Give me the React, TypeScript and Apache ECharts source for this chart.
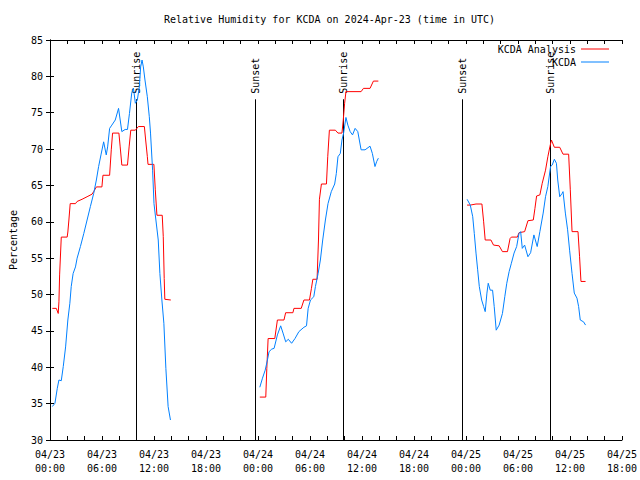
import React, { useEffect, useRef } from "react";
import * as echarts from "echarts";

const titleText = "Relative Humidity for KCDA on 2024-Apr-23 (time in UTC)";
const dayLabels = ["04/23", "04/24", "04/25"];
const yAxisName = "Percentage";

// hours since 04/23 00:00 UTC
const sunHours = [9.93, 23.68, 33.84, 47.63, 57.79];
const sunLabels = ["Sunrise", "Sunset", "Sunrise", "Sunset", "Sunrise"];

const analysisSeg1 = [
  [0.27, 48.1], [0.73, 48.1], [0.95, 47.4], [1.03, 49.0], [1.11, 52.7], [1.3, 57.9], [1.98, 57.9],
  [2.06, 58.6], [2.18, 60.25], [2.33, 62.5], [2.94, 62.5], [3.13, 62.8], [3.7, 63.1], [4.28, 63.45],
  [4.85, 63.8], [5.04, 64.15], [5.35, 64.8], [5.99, 64.8], [6.11, 66.4], [6.88, 66.4], [7.07, 69.9],
  [7.22, 72.2], [7.95, 72.2], [8.1, 70.3], [8.29, 67.8], [8.94, 67.8], [9.13, 70.3], [9.32, 72.6],
  [9.85, 72.6], [10.2, 73.1], [10.89, 73.1], [11.04, 71.25], [11.23, 69.0], [11.31, 67.9],
  [11.99, 67.9], [12.15, 64.4], [12.34, 60.9], [12.95, 60.9], [13.07, 58.0], [13.18, 52.2],
  [13.25, 49.35], [13.94, 49.25],
];
const analysisSeg2 = [
  [24.21, 35.9], [24.9, 35.9], [25.02, 39.85], [25.17, 43.95], [25.94, 43.95], [26.24, 46.5],
  [27.0, 46.5], [27.19, 47.5], [28.03, 47.5], [28.15, 48.1], [28.99, 48.1], [29.3, 49.25],
  [29.94, 49.25], [30.17, 50.85], [30.33, 52.1], [30.82, 52.1], [30.98, 57.5], [31.09, 63.1],
  [31.32, 65.2], [31.9, 65.2], [32.05, 68.95], [32.24, 72.6], [32.93, 72.6], [33.23, 72.2],
  [33.69, 72.2], [33.84, 74.0], [34.0, 76.3], [34.15, 77.9], [35.9, 77.9], [36.17, 78.35],
  [36.93, 78.35], [37.32, 79.35], [37.89, 79.35],
];
const analysisSeg3 = [
  [48.13, 62.3], [48.5, 62.3], [49.16, 62.45], [49.84, 62.45], [50.04, 60.0], [50.22, 57.5],
  [50.88, 57.5], [51.18, 56.8], [51.83, 56.7], [52.21, 55.9], [52.79, 55.9], [53.09, 57.7],
  [53.24, 57.9], [53.93, 57.9], [54.12, 58.5], [54.77, 58.65], [55.15, 60.15], [55.77, 60.25],
  [55.96, 61.85], [56.15, 63.55], [56.53, 63.7], [56.8, 65.3], [57.18, 67.1], [57.45, 68.95],
  [57.68, 70.3], [57.86, 71.25], [58.2, 70.25], [58.82, 70.25], [59.2, 69.3], [59.85, 69.3],
  [60.04, 64.4], [60.24, 58.65], [60.93, 58.65], [61.11, 55.2], [61.27, 51.8], [61.8, 51.8],
];

const obsSeg1 = [
  [0.27, 34.6], [0.57, 35.05], [0.84, 37.1], [1.03, 38.25], [1.3, 38.15], [1.53, 40.1], [1.8, 42.8],
  [2.06, 46.5], [2.29, 48.8], [2.45, 51.1], [2.67, 52.9], [2.94, 53.8], [3.13, 55.0], [3.51, 56.6],
  [3.9, 58.4], [4.28, 60.25], [4.66, 62.1], [5.04, 63.9], [5.35, 65.75], [5.61, 67.6], [5.88, 69.2],
  [6.19, 71.0], [6.49, 69.2], [6.65, 70.3], [6.88, 72.85], [7.14, 73.3], [7.53, 74.0], [7.91, 75.6],
  [8.1, 74.0], [8.29, 72.4], [8.67, 72.7], [8.94, 72.7], [9.17, 74.9], [9.43, 77.7], [9.63, 78.4],
  [9.85, 76.3], [10.08, 76.75], [10.31, 78.6], [10.46, 81.3], [10.62, 82.25], [10.77, 81.3],
  [10.96, 79.5], [11.23, 77.2], [11.46, 74.45], [11.6, 72.2], [11.84, 67.1], [12.0, 62.5],
  [12.22, 60.25], [12.49, 57.5], [12.68, 52.9], [12.91, 49.25], [13.14, 46.05], [13.37, 39.85],
  [13.63, 34.6], [13.9, 32.75],
];
const obsSeg2 = [
  [24.21, 37.25], [24.52, 38.5], [24.83, 39.6], [25.09, 41.0], [25.28, 42.15], [25.59, 42.5],
  [25.86, 42.6], [26.24, 44.45], [26.62, 45.7], [26.89, 44.7], [27.2, 43.5], [27.5, 43.85],
  [27.88, 43.3], [28.27, 43.95], [28.72, 44.9], [29.3, 45.5], [29.6, 45.7], [29.79, 48.1],
  [30.06, 49.25], [30.44, 49.7], [30.63, 51.1], [30.94, 52.9], [31.2, 54.75], [31.47, 57.5],
  [31.78, 60.25], [32.08, 62.5], [32.46, 64.15], [32.85, 65.2], [33.04, 66.65], [33.23, 68.95],
  [33.5, 69.4], [33.69, 71.25], [33.88, 72.2], [34.15, 74.35], [34.37, 73.3], [34.64, 72.4],
  [34.91, 71.95], [35.21, 72.85], [35.52, 72.4], [35.9, 69.9], [36.36, 69.9], [36.93, 70.4],
  [37.2, 69.4], [37.5, 67.6], [37.7, 68.3], [37.89, 68.75],
];
const obsSeg3 = [
  [48.13, 63.1], [48.5, 62.3], [48.78, 60.7], [48.96, 58.4], [49.16, 55.7], [49.35, 53.4],
  [49.54, 51.1], [49.81, 49.25], [50.04, 48.35], [50.22, 47.65], [50.42, 50.2], [50.57, 51.55],
  [50.8, 50.6], [51.07, 50.6], [51.26, 48.35], [51.49, 45.1], [51.83, 45.8], [52.21, 47.4],
  [52.48, 49.7], [52.71, 51.55], [52.98, 53.15], [53.24, 54.3], [53.55, 55.7], [53.85, 56.6],
  [54.12, 58.4], [54.31, 58.65], [54.5, 56.35], [54.77, 56.8], [55.15, 55.2], [55.46, 55.75],
  [55.84, 58.2], [56.22, 56.6], [56.53, 58.65], [56.91, 61.2], [57.18, 63.45], [57.45, 64.85],
  [57.76, 67.6], [57.95, 67.8], [58.2, 68.6], [58.44, 68.05], [58.59, 65.75], [58.82, 63.45],
  [59.09, 63.9], [59.2, 64.15], [59.47, 61.2], [59.73, 58.9], [59.96, 56.1], [60.24, 52.9],
  [60.5, 50.2], [60.81, 49.5], [61.0, 48.35], [61.19, 46.5], [61.57, 46.25], [61.8, 45.8],
];

const FONT = "DejaVu Sans Mono";
const RED = "#ff0000";
const BLUE = "#0080ff";

export default function App() {
  const ref = useRef<HTMLDivElement>(null);
  useEffect(() => {
    if (!ref.current) return;
    const chart = echarts.init(ref.current, null, { renderer: "svg" });
    const xLabel = (v: number) => {
      if (v % 6 !== 0) return "";
      const d = dayLabels[Math.min(Math.floor(v / 24), dayLabels.length - 1)];
      const hh = String(v % 24).padStart(2, "0");
      return `${d}\n${hh}:00`;
    };
    const axisCommon = {
      axisLine: { lineStyle: { color: "#000", width: 1 } },
      axisTick: { inside: true, length: 4, lineStyle: { color: "#000" } },
      splitLine: { show: false },
    };
    const lineSeries = (name: string, color: string, data: number[][]) => ({
      type: "line",
      name,
      data,
      showSymbol: false,
      symbol: "none",
      lineStyle: { color, width: 1 },
      itemStyle: { color },
      silent: true,
    });
    chart.setOption({
      animation: false,
      backgroundColor: "#fff",
      textStyle: { fontFamily: FONT },
      title: {
        text: titleText,
        left: 164,
        top: 14,
        padding: 0,
        textStyle: { fontFamily: FONT, fontSize: 10, fontWeight: "normal", color: "#000" },
      },
      legend: [
        {
          data: ["KCDA Analysis"],
          right: 31,
          top: 44,
          padding: 0,
          align: "right",
          icon: "rect",
          itemWidth: 28,
          itemHeight: 1,
          textStyle: { fontFamily: FONT, fontSize: 10, color: "#000" },
        },
        {
          data: ["KCDA"],
          right: 31,
          top: 57,
          padding: 0,
          align: "right",
          icon: "rect",
          itemWidth: 28,
          itemHeight: 1,
          textStyle: { fontFamily: FONT, fontSize: 10, color: "#000" },
        },
      ],
      grid: { left: 46, right: 18, top: 40, bottom: 40, containLabel: false, show: false },
      xAxis: [
        {
          type: "value",
          min: 0,
          max: 66,
          interval: 2,
          position: "bottom",
          ...axisCommon,
          axisLabel: {
            formatter: xLabel,
            fontFamily: FONT,
            fontSize: 10,
            color: "#000",
            lineHeight: 14,
            margin: 7,
            showMinLabel: true,
            showMaxLabel: true,
            hideOverlap: false,
          },
        },
        {
          type: "value",
          min: 0,
          max: 66,
          interval: 2,
          position: "top",
          ...axisCommon,
          axisLabel: { show: false },
        },
      ],
      yAxis: [
        {
          type: "value",
          min: 30,
          max: 85,
          interval: 5,
          position: "left",
          ...axisCommon,
          name: yAxisName,
          nameLocation: "middle",
          nameRotate: 90,
          nameGap: 32,
          nameTextStyle: { fontFamily: FONT, fontSize: 10, color: "#000" },
          axisLabel: { fontFamily: FONT, fontSize: 10, color: "#000", margin: 7 },
        },
        {
          type: "value",
          min: 30,
          max: 85,
          interval: 5,
          position: "right",
          ...axisCommon,
          axisLabel: { show: false },
        },
      ],
      series: [
        {
          type: "custom",
          coordinateSystem: "cartesian2d",
          silent: true,
          clip: false,
          data: sunHours.map((h, i) => [h, 30, i]),
          encode: { x: 0, y: 1 },
          renderItem: (params: any, api: any) => {
            const h = api.value(0);
            const idx = api.value(2);
            const top = api.coord([h, 76.85]);
            const bot = api.coord([h, 30]);
            const lab = api.coord([h, 77.6]);
            const px = Math.floor(top[0]) + 0.5;
            return {
              type: "group",
              children: [
                {
                  type: "line",
                  shape: { x1: px, y1: top[1], x2: px, y2: bot[1] },
                  style: { stroke: "#000", lineWidth: 1 },
                },
                {
                  type: "text",
                  x: px,
                  y: lab[1],
                  rotation: Math.PI / 2,
                  style: {
                    text: sunLabels[idx],
                    fill: "#000",
                    font: `10px "${FONT}"`,
                    align: "left",
                    verticalAlign: "middle",
                    textAlign: "left",
                    textVerticalAlign: "middle",
                  },
                },
              ],
            };
          },
        },
        lineSeries("KCDA Analysis", RED, analysisSeg1),
        lineSeries("KCDA Analysis", RED, analysisSeg2),
        lineSeries("KCDA Analysis", RED, analysisSeg3),
        lineSeries("KCDA", BLUE, obsSeg1),
        lineSeries("KCDA", BLUE, obsSeg2),
        lineSeries("KCDA", BLUE, obsSeg3),
      ],
    });
    return () => chart.dispose();
  }, []);
  return (
    <div
      ref={ref}
      style={{ position: "fixed", left: 0, top: 0, width: 640, height: 480, background: "#fff" }}
    />
  );
}
